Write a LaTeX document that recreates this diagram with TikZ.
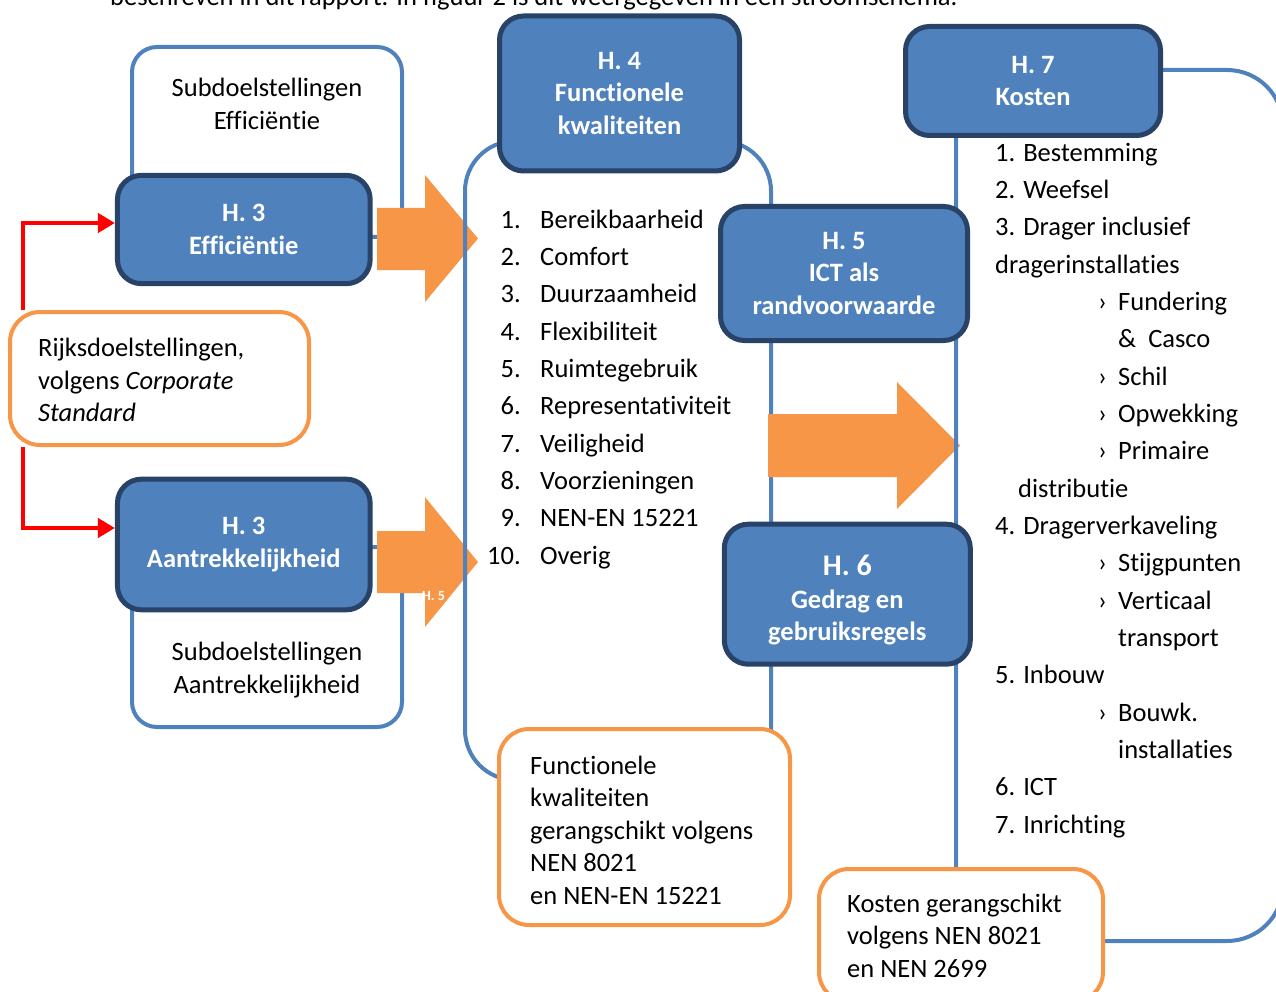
\documentclass[tikz,border=0pt]{standalone}
\usepackage{fontspec}
\setmainfont{Carlito}[Ligatures=NoCommon]
\usetikzlibrary{arrows.meta}

\definecolor{chapblue}{RGB}{79,129,189}
\definecolor{chapdark}{RGB}{40,66,104}
\definecolor{noteorange}{RGB}{247,150,70}

\newcommand{\boxfont}{\fontsize{26.5}{32.5}\selectfont}
\newcommand{\listfont}{\fontsize{26.5}{37.33}\selectfont}
\newcommand{\kwalitem}[2]{\strut\makebox[33.5pt][r]{#1}\hspace{19.5pt}#2}
\newcommand{\kostsub}[1]{\strut\makebox[123pt][l]{\hspace*{103pt}›}#1}

\begin{document}
\begin{tikzpicture}[x=1pt,y=-1pt,
    chapter/.style={draw=chapdark, fill=chapblue, line width=5pt, rounded corners=24pt,
      text=white, font=\boxfont\bfseries, align=center, inner sep=0pt, outer sep=0pt},
    frame/.style={draw=chapblue, line width=4pt, rounded corners=#1, inner sep=0pt, outer sep=0pt},
    note/.style={draw=noteorange, fill=white, line width=4pt, rounded corners=30pt, inner sep=0pt, outer sep=0pt},
    notetext/.style={font=\boxfont, align=left, anchor=west, inner sep=0pt},
    fatarrow/.style={fill=noteorange},
    feed/.style={draw=red, line width=4pt, -{Triangle[length=17pt,width=19pt]}}]

\useasboundingbox (0,0) rectangle (1276,992);

\node[font=\boxfont, anchor=base west, inner sep=0pt] (intro) at (110,6)
  {beschreven in dit rapport. In figuur 2 is dit weergegeven in een stroomschema.};

% subdoelstellingen
\node[frame=25pt, minimum width=270pt, minimum height=190pt] (effframe) at (267,142) {};
\node[frame=25pt, minimum width=270pt, minimum height=180pt] (aanframe) at (267,637) {};
\node[font=\boxfont, align=center] (effsub) at (267,104) {Subdoelstellingen\\Efficiëntie};
\node[font=\boxfont, align=center] (aansub) at (267,670) {Subdoelstellingen\\Aantrekkelijkheid};

\fill[fatarrow] (377,208) -- (425,208) -- (425,175) -- (478,238.5) -- (425,302) -- (425,270) -- (377,270) -- cycle;
\fill[fatarrow] (377,531) -- (425,531) -- (425,497) -- (478,562) -- (425,627) -- (425,593) -- (377,593) -- cycle;

\node[frame=50pt, minimum width=306pt, minimum height=639pt] (kwalframe) at (618,460.5) {};

\fill[fatarrow] (768,414) -- (897,414) -- (897,382) -- (960,445.5) -- (897,509) -- (897,477) -- (768,477) -- cycle;

\node[frame=56pt, minimum width=327pt, minimum height=871pt] (kostframe) at (1119.5,505.5) {};

% hoofdstukken
\begin{scope}[every node/.style={chapter}]
  \node[minimum width=252.7pt, minimum height=108.3pt] (eff) at (243.8,229.5) {H. 3\\Efficiëntie};
  \node[minimum width=252.7pt, minimum height=130.7pt] (aan) at (243.8,544.5) {H. 3\\Aantrekkelijkheid};
  \node[minimum width=240pt, minimum height=155pt] (kwal) at (619.5,93.5) {H. 4\\Functionele\\kwaliteiten};
  \node[minimum width=247pt, minimum height=134pt] (ict) at (844,273.5) {H. 5\\ICT als\\randvoorwaarde};
  \node[minimum width=246pt, minimum height=140pt] (gedrag) at (847.3,594.2)
    {{\fontsize{30}{32.5}\selectfont\rule{0pt}{33pt}H. 6}\\Gedrag en\\gebruiksregels};
  \node[minimum width=255pt, minimum height=109pt] (kost) at (1033,81) {H. 7\\Kosten};
\end{scope}

\node[text=white, font=\fontsize{14}{16}\selectfont\bfseries, inner sep=0pt] (stray) at (433.5,596.5) {H. 5};

% opmerkingen
\begin{scope}[every node/.style={note}]
  \node[minimum width=299pt, minimum height=133pt] (rijks) at (159.5,378.5) {};
  \node[minimum width=291pt, minimum height=196pt] (kwalnote) at (644.5,827) {};
  \node[minimum width=284pt, minimum height=133pt] (kostnote) at (961,935.5) {};
\end{scope}
\node[notetext] (rijkstxt) at ([xshift=28pt,yshift=-1.5pt]rijks.west)
  {Rijksdoelstellingen,\\volgens \textit{Corporate}\\\textit{Standard}};
\node[notetext] (kwalnotetxt) at ([xshift=31pt,yshift=-3pt]kwalnote.west)
  {Functionele\\kwaliteiten\\gerangschikt volgens\\NEN 8021\\en NEN-EN 15221};
\node[notetext] (kostnotetxt) at ([xshift=28pt]kostnote.west)
  {Kosten gerangschikt\\volgens NEN 8021\\en NEN 2699};

% lijsten
\node[font=\listfont, align=left, anchor=north west, inner sep=0pt] (kwallist) at (487,201.9)
  {\kwalitem{1.}{Bereikbaarheid}\\\kwalitem{2.}{Comfort}\\\kwalitem{3.}{Duurzaamheid}\\
   \kwalitem{4.}{Flexibiliteit}\\\kwalitem{5.}{Ruimtegebruik}\\\kwalitem{6.}{Representativiteit}\\
   \kwalitem{7.}{Veiligheid}\\\kwalitem{8.}{Voorzieningen}\\\kwalitem{9.}{NEN-EN 15221}\\
   \kwalitem{10.}{Overig}};
\node[font=\listfont, align=left, anchor=north west, inner sep=0pt] (kostlist) at (995,134.9)
  {\strut 1. Bestemming\\\strut 2. Weefsel\\\strut 3. Drager inclusief\\\strut dragerinstallaties\\
   \kostsub{Fundering}\\\strut\hspace*{123pt}\&\ \ Casco\\\kostsub{Schil}\\\kostsub{Opwekking}\\
   \kostsub{Primaire}\\\strut\hspace*{23pt}distributie\\\strut 4. Dragerverkaveling\\
   \kostsub{Stijgpunten}\\\kostsub{Verticaal}\\\strut\hspace*{123pt}transport\\
   \strut 5. Inbouw\\\kostsub{Bouwk.}\\\strut\hspace*{123pt}installaties\\
   \strut 6. ICT\\\strut 7. Inrichting};

\draw[feed, shorten <=2pt, shorten >=2.5pt] ([xshift=12.7pt]rijks.north west) |- ([yshift=6.5pt]eff.west);
\draw[feed, shorten <=2pt, shorten >=2.5pt] ([xshift=12.7pt]rijks.south west) |- ([yshift=16.5pt]aan.west);
\end{tikzpicture}
\end{document}
